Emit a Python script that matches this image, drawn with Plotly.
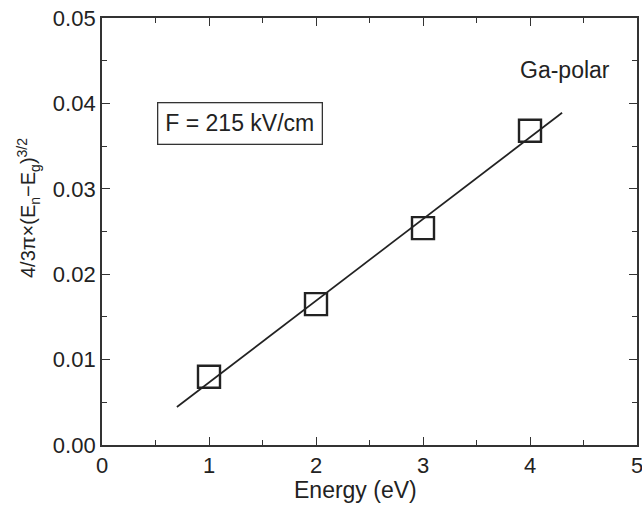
import plotly.graph_objects as go

energy = [1, 2, 3, 4]
values = [0.0080, 0.0165, 0.0254, 0.0368]
fit_x = [0.70, 4.30]
fit_y = [0.00445, 0.0389]

x_title = "Energy (eV)"
y_title = "4/3π×(E<sub>n</sub>−E<sub>g</sub>)<sup>3/2</sup>"
field_label = "F = 215 kV/cm"
polarity_label = "Ga-polar"

font_family = "Liberation Sans, Arial, sans-serif"
tick_family = "Liberation Sans Narrow, Arial Narrow, Liberation Sans, sans-serif"
ink = "#222222"
axis_ink = "#333333"

W, H = 642, 505
ML, MR, MT, MB = 102, 5, 18, 60
plot_w = W - ML - MR
plot_h = H - MT - MB

fig = go.Figure()
fig.add_trace(go.Scatter(x=fit_x, y=fit_y, mode="lines",
                         line=dict(color=ink, width=1.7), showlegend=False))
fig.add_trace(go.Scatter(x=energy, y=values, mode="markers",
                         marker=dict(symbol="square-open", size=22, color=ink,
                                     line=dict(width=2.4, color=ink)),
                         showlegend=False))

axis_common = dict(
    showline=True, linecolor=axis_ink, linewidth=1.8, mirror="ticks",
    ticks="inside", ticklen=8, tickwidth=1.4, tickcolor=axis_ink,
    showgrid=False, zeroline=False, automargin=False,
    ticklabeloverflow="allow",
    tickfont=dict(size=22, color=ink, family=tick_family),
)

fig.update_xaxes(range=[0, 5], dtick=1, tick0=0,
                 minor=dict(ticks="inside", ticklen=5, dtick=0.5, tickcolor=axis_ink, tickwidth=1.3),
                 **axis_common)
fig.update_yaxes(range=[0, 0.05], dtick=0.01, tick0=0, tickformat=".2f",
                 minor=dict(ticks="inside", ticklen=5, dtick=0.005, tickcolor=axis_ink, tickwidth=1.3),
                 **axis_common)

# axis titles (positions given in pixels, converted to paper units)
fig.add_annotation(x=(355 - ML) / plot_w, y=-(490 - (H - MB)) / plot_h,
                   xref="paper", yref="paper",
                   text=x_title, showarrow=False, xanchor="center", yanchor="middle",
                   font=dict(size=23, color=ink, family=font_family))
fig.add_annotation(x=-(ML - 28) / plot_w, y=((H - MB) - 208) / plot_h,
                   xref="paper", yref="paper",
                   text=y_title, showarrow=False, textangle=-90,
                   xanchor="center", yanchor="middle",
                   font=dict(size=20, color=ink, family=font_family))

fig.add_annotation(x=1.285, y=0.03765, xref="x", yref="y",
                   text=field_label, showarrow=False, xanchor="center", yanchor="middle",
                   font=dict(size=23, color=ink, family=font_family),
                   bordercolor=axis_ink, borderwidth=1.3, borderpad=7, bgcolor="white")
fig.add_annotation(x=4.33, y=0.0439, xref="x", yref="y",
                   text=polarity_label, showarrow=False, xanchor="center", yanchor="middle",
                   font=dict(size=23, color=ink, family=font_family))

fig.update_layout(
    width=W, height=H,
    margin=dict(l=ML, r=MR, t=MT, b=MB),
    paper_bgcolor="white", plot_bgcolor="white",
    font=dict(family=font_family, color=ink),
)

fig.write_html("out.html", config={"displayModeBar": False},
               post_script="document.body.style.margin='0';document.body.style.overflow='hidden';")
